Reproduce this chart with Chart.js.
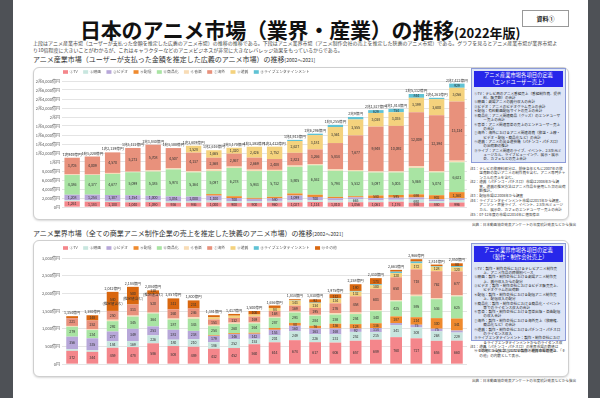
<!DOCTYPE html>
<html lang="ja">
<head>
<meta charset="utf-8">
<script src="https://cdn.jsdelivr.net/npm/chart.js@4.4.1/dist/chart.umd.min.js"></script>
<style>
  html, body { margin: 0; padding: 0; }
  body { width: 600px; height: 398px; background: #4e5156; position: relative; overflow: hidden;
         font-family: "Noto Sans CJK JP", "Noto Sans", sans-serif; color: #333; }
  .page { position: absolute; left: 13px; top: 0; width: 575px; height: 398px; background: #fff; }
  .abs { position: absolute; white-space: nowrap; }
  .title { left: 80px; top: 14px; font-size: 21px; font-weight: 700; color: #111; letter-spacing: -0.2px; }
  .title small { font-size: 13px; font-weight: 700; letter-spacing: 0; }
  .tag { left: 522px; top: 10px; width: 45px; height: 15px; border: 1px solid #999; font-size: 6px;
         font-weight: 700; text-align: center; line-height: 15px; color: #222; }
  .desc { left: 33px; top: 39px; font-size: 5px; line-height: 7px; color: #444; }
  .sect { left: 33px; font-size: 7px; color: #333; }
  .sect span { font-size: 5px; }
  .box { position: absolute; left: 33px; width: 534px; border: 1px solid #cfcfcf; border-radius: 6px;
         box-shadow: 0 1px 2px rgba(0,0,0,0.15); background: #fff; }
  canvas { position: absolute; }
  .def { position: absolute; left: 471px; width: 93px; background: #dde5f6; border: 1px solid #8c9bd8; }
  .def .hd { margin: 2px; background: #2727ea; color: #fff; font-size: 5.3px; line-height: 7px;
             text-align: center; padding: 1px 0; }
  /* tiny text: laid out at double size, then scaled down */
  .tiny { position: absolute; transform: scale(0.5); transform-origin: 0 0; white-space: normal; }
  .def .tiny { left: 2px; width: 178px; font-size: 7.2px; line-height: 8.4px; color: #222; }
  .tiny p { margin: 0 0 0.6px 0; padding-left: 2.6em; text-indent: -2.6em; }
  .notes { left: 470px; width: 192px; font-size: 7.2px; line-height: 8.8px; color: #333; }
  .notes p { margin: 0 0 1px 0; padding-left: 2.6em; text-indent: -2.6em; }
  .src { font-size: 7.2px; color: #444; white-space: nowrap; }
</style>
</head>
<body>
<div class="page"></div>
<div class="abs title">日本のアニメ市場（業界・産業）の推移<small>(2022年版)</small></div>
<div class="abs tag">資料①</div>
<div class="abs desc">上段はアニメ産業市場（ユーザーが支払った金額を推定した広義のアニメ市場）の推移の推移である。下段はアニメ業界市場（アニメ制作会社の売上を推定した狭義のアニメ市場）である。グラフを見るとアニメ産業市場が業界市場よ<br>り10倍程度に大きいことがわかるが、これはキャラクターなどのアニメビジネスが非常に大きなレバレッジ効果をもっているからである。</div>

<div class="abs sect" style="top:54px">アニメ産業市場（ユーザーが支払った金額を推定した広義のアニメ市場）の推移<span>[2002～2021]</span></div>
<div class="box" style="top:67px;height:151px"></div>
<canvas id="c1" width="436" height="152" style="left:33px;top:67px;width:436px;height:152px"></canvas>
<div class="def" style="top:68px;height:93px">
  <div class="hd">アニメ産業市場各項目の定義<br>（エンドユーザー売上）</div>
  <div class="tiny" style="top:22px">
  <p>①TV：テレビ局のアニメ番組売上（番組制作費、提供料、販売額）の合計</p>
  <p>②映画：劇場アニメの興行収入の合計</p>
  <p>③ビデオ：アニメのビデオグラム売上の合計</p>
  <p>④配信：有料動画配信サイトの売上の合計</p>
  <p>⑤商品化：アニメ関連商品（グッズ）のエンドユーザー売上の合計</p>
  <p>⑥音楽：アニメ関連音楽の売上のエンドユーザー売上の合計</p>
  <p>⑦海外：海外におけるアニメ関連消費（放送・上映・ビデオ・配信・商品化など）の合計</p>
  <p>⑧遊興：アニメの出る遊技機（パチンコ・パチスロ）の出荷額の推計</p>
  <p>⑨ライブ：アニメ関連のライブ、イベント、2.5次元ミュージカル、ライブビューイング、展示・展示会、カフェなどの売上合計</p>
  </div>
</div>
<div class="tiny notes" style="top:166px">
<p>注1：テレビの放映料部分は、前後各年ともに2007年の放送費額の高いアニメの制作費を含む。アニメ専門チャンネルの売上を含む。</p>
<p>注2：遊興（パチンコ・パチスロ）市場は2008年から調査。遊興の推定方法はアニメ作品を使用した台の出荷額推計。</p>
<p>注3：配信市場は2008年から調査</p>
<p>注4：ライブエンタテインメント市場は2013年から調査。アニソン・声優ライブ、イベント、2.5次元ミュージカル、展示会、カフェのエンドユーザー売上の合計</p>
<p>注5：07-12年度の市場は2014年に遡及修正</p>
</div>
<div class="tiny src" style="left:472px;top:222px">出典：日本動画協会発表アンケートの年度統計発表などから抜出</div>

<div class="abs sect" style="top:228px">アニメ業界市場（全ての商業アニメ制作企業の売上を推定した狭義のアニメ市場）の推移<span>[2002～2021]</span></div>
<div class="box" style="top:240px;height:135px"></div>
<canvas id="c2" width="436" height="136" style="left:33px;top:240px;width:436px;height:136px"></canvas>
<div class="def" style="top:243px;height:96px">
  <div class="hd">アニメ業界市場各項目の定義<br>（製作・制作会社売上）</div>
  <div class="tiny" style="top:22px">
  <p>①TV：製作・制作会社におけるテレビアニメ制作売上、アニメ作品の時間別ベース</p>
  <p>②映画：製作・制作会社における劇場アニメ制作売上、興行収入からの配分</p>
  <p>③ビデオ：製作・制作会社におけるビデオ販売売上、ビデオグラムの出荷額</p>
  <p>④配信：製作・制作会社における配信アニメ制作売上、配信収入の配分</p>
  <p>⑤商品化：製作・制作会社における商品化・イベント等でのライセンス収入の合計</p>
  <p>⑥音楽：製作・制作会社における音楽出版・楽曲配信の収入合計</p>
  <p>⑦海外：製作・制作会社における海外売上（放映権、商品化など）の合計</p>
  <p>⑧遊興：製作・制作会社におけるパチンコ・パチスロのライセンス収入</p>
  <p>⑨ライブエンタテインメント：製作・制作会社におけるライブエンタテインメントからのライセンス収入</p>
  <p>⑩その他：上記に該当しない製作・制作会社の売上</p>
  </div>
</div>
<div class="tiny notes" style="top:344px">
<p>注1：遊興（パチンコ・パチスロ）の業界市場の数値は2009年から独立。2007年以前の遊興市場数値は、「その他」の内数として表示。</p>
</div>
<div class="tiny src" style="left:472px;top:378px">出典：日本動画協会発表アンケートの年度統計発表などから抜出</div>

<script>
// years
const years = ["2002","2003","2004","2005","2006","2007","2008","2009","2010","2011",
               "2012","2013","2014","2015","2016","2017","2018","2019","2020","2021"];

// アニメ産業市場 (億円)
const tv1    = [1261,1183,1100,1040,1090, 936, 946,1000, 900, 900, 960,1027,1114,1010,1056,1061,1176, 958, 880, 996];
const eiga1  = [ 250, 300, 260, 427, 400, 390, 382, 420, 400, 410, 400, 430, 416, 440, 663, 410, 426, 692, 406, 567];
const video1 = [1208,1254,1307,1154,1000,1051,1000,1100, 700, 500, 580,1099, 700, 500, 425, 520, 475, 467, 433, 382];
const haishin1=[   0,   0,   0,   0,   0,   0,   0, 350, 400, 220, 330, 460, 499, 302, 260, 580, 595, 698, 902,1360];
const shohin1= [4386,4377,4677,5099,5385,5974,5364,5097,6278,5943,5732,5905,6552,5794,5532,5097,5003,5868,5074,6621];
const ongaku1= [ 138,  97, 225, 129, 257, 242, 252, 416, 305, 325, 250, 296, 250, 330, 289, 244, 258, 377, 276, 377];
const kaigai1= [3705,4009,4570,5273,5708,4507,4137,2568,2867,2669,2408,2823,3266,5834,7677,9948,10092,12009,12394,13134];
const yukyo1 = [   0,   0,   0,   0,   0,   0,1528,1665,1320,2426,2752,2627,3181,3561,3555,3038,3035,3199,3600,3056];
const live1  = [   0,   0,   0,   0,   0,   0,   0,   0,   0,   0,   0, 246, 318, 484, 552, 629, 754, 844, 296, 929];

// アニメ業界市場 (億円)
const tv2    = [372,344,459,478,586,508,489,432,452,560,614,674,617,606,657,689,760,727,655,660];
const eiga2  = [ 46, 48,184,169,226,180,210,186,252,153,201,249,226,231,252,215,341,308,268,229];
const video2 = [356,335,277,349,253,281,238,179,146,142,153,160,163,168, 92,114, 60, 75, 75, 58];
const haishin2=[  0,  0,  0,  0,  0,  0,  0, 20, 24, 30, 52, 80, 76,136,128,136,187,214,300,341];
const shohin2= [279,234,292,345,364,287,343,254,260,264,287,293,284,258,284,340,425,595,536,625];
const ongaku2= [ 24, 19, 40, 30, 25, 30, 43, 37, 37, 25, 27, 27, 26, 42, 45, 30, 30, 40, 30, 30];
const kaigai2= [221,252,250,313,520,260,246,153,132,169,168,169,195,276,458,603,650,718,762,677];
const yukyo2 = [  0,  0,  0,  0,  0,  0,  0, 60, 64, 57, 84,143,134,134,132,100,120,172,128,120];
const live2  = [  0,  0,  0,  0,  0,  0,  0,  0,  0,  0,  0,  9, 17, 12, 20, 30, 40, 50, 20, 30];
const sonota2= [ 56,148,540,500,110,311,231, 60, 50,100, 70, 30, 92,112,190,173, 50, 67, 40, 80];
const estimated2 = ["2004","2005","2006"];

const yTicks1 = [0,2000,4000,6000,8000,10000,12000,14000,16000,18000,20000,22000,24000,26000,28000];
const yTicks2 = [0,500,1000,1500,2000,2500,3000];

const FONT = '"Noto Sans CJK JP", "Noto Sans", sans-serif';
const colors = {
  tv: "#f4868b", eiga: "#c8e6df", video: "#b7a7d9", haishin: "#ef8a2e", shohin: "#a9e4a3",
  ongaku: "#f8dcb6", kaigai: "#e8917c", yukyo: "#f4d27d", live: "#5fc2d4", sonota: "#d9670f"
};

function chou(v) {
  if (v === 0) return "0円";
  const c = Math.floor(v / 10000), o = v % 10000;
  let s = c > 0 ? c + "兆" : "";
  if (o > 0) s += o.toLocaleString("en-US") + "億円"; else s += "円";
  return s;
}
function oku(v) { return v === 0 ? "0円" : v.toLocaleString("en-US") + "億円"; }

function ds(label, data, color) {
  return { label, data, backgroundColor: color, borderWidth: 0 };
}

// legend + value labels drawn on the canvas
const barText = {
  id: "barText",
  afterDatasetsDraw(chart, args, opts) {
    const ctx = chart.ctx;
    const ya = chart.scales.y;
    ctx.save();
    ctx.textAlign = "center";
    ctx.textBaseline = "middle";
    ctx.font = "3.6px " + FONT;
    ctx.fillStyle = "#333";
    chart.data.datasets.forEach((d, di) => {
      chart.getDatasetMeta(di).data.forEach((bar, i) => {
        const v = d.data[i];
        if (!v) return;
        const p = bar.getProps(["x", "y", "base"], true);
        const h = p.base - p.y;
        if (h < 2.6) return;
        const lab = v.toLocaleString("en-US");
        if (opts.estimated && d.label === "⑩その他" && opts.estimated.includes(chart.data.labels[i])) {
          ctx.fillText(lab, p.x, (p.y + p.base) / 2 - 2);
          ctx.fillText("(推定値含む)", p.x, (p.y + p.base) / 2 + 2.5);
        } else {
          ctx.fillText(lab, p.x, (p.y + p.base) / 2);
        }
      });
    });
    // totals
    ctx.textBaseline = "bottom";
    chart.data.labels.forEach((l, i) => {
      let t = 0;
      chart.data.datasets.forEach(d => t += d.data[i]);
      const x = chart.getDatasetMeta(0).data[i].x;
      ctx.fillText(opts.fmt(t), x, ya.getPixelForValue(t) - 1.5);
    });
    // legend
    ctx.textAlign = "left";
    ctx.textBaseline = "middle";
    ctx.font = "3.8px " + FONT;
    let x = chart.chartArea.left + 1;
    const y = chart.chartArea.top - opts.legendOffset;
    chart.data.datasets.forEach(d => {
      ctx.fillStyle = d.backgroundColor;
      ctx.fillRect(x, y - 1.8, 5, 3.6);
      ctx.fillStyle = "#555";
      ctx.fillText(d.label, x + 6.5, y);
      x += 6.5 + ctx.measureText(d.label).width + 5.4;
    });
    ctx.restore();
  }
};

function makeChart(id, datasets, ticks, fmt, catPct, padTop, legendOffset, estimated) {
  return new Chart(document.getElementById(id).getContext("2d"), {
    type: "bar",
    data: { labels: years, datasets },
    plugins: [barText],
    options: {
      responsive: false,
      animation: false,
      devicePixelRatio: 1,
      layout: { padding: { top: padTop, right: 2, bottom: 2, left: 0 } },
      datasets: { bar: { categoryPercentage: catPct, barPercentage: 1 } },
      plugins: {
        legend: { display: false },
        tooltip: { enabled: false },
        barText: { fmt, legendOffset, estimated }
      },
      scales: {
        x: {
          stacked: true,
          grid: { display: false },
          border: { display: false },
          ticks: { font: { size: 5, family: FONT }, color: "#333", padding: 2, maxRotation: 0 },
          afterFit(s) { s.height = 10; }
        },
        y: {
          stacked: true,
          min: 0, max: ticks[ticks.length - 1],
          afterBuildTicks(s) { s.ticks = ticks.map(v => ({ value: v })); },
          grid: { color: "#d9d9d9", lineWidth: 0.7, drawTicks: false },
          border: { display: false },
          ticks: { font: { size: 4, family: FONT }, color: "#555", padding: 2, callback: v => fmt(v) },
          afterFit(s) { s.width = 29; }
        }
      }
    }
  });
}

makeChart("c1", [
  ds("①TV", tv1, colors.tv),
  ds("②映画", eiga1, colors.eiga),
  ds("③ビデオ", video1, colors.video),
  ds("④配信", haishin1, colors.haishin),
  ds("⑤商品化", shohin1, colors.shohin),
  ds("⑥音楽", ongaku1, colors.ongaku),
  ds("⑦海外", kaigai1, colors.kaigai),
  ds("⑧遊興", yukyo1, colors.yukyo),
  ds("⑨ライブエンタテインメント", live1, colors.live)
], yTicks1, chou, 0.76, 14, 9);

makeChart("c2", [
  ds("①TV", tv2, colors.tv),
  ds("②映画", eiga2, colors.eiga),
  ds("③ビデオ", video2, colors.video),
  ds("④配信", haishin2, colors.haishin),
  ds("⑤商品化", shohin2, colors.shohin),
  ds("⑥音楽", ongaku2, colors.ongaku),
  ds("⑦海外", kaigai2, colors.kaigai),
  ds("⑧遊興", yukyo2, colors.yukyo),
  ds("⑨ライブエンタテインメント", live2, colors.live),
  ds("⑩その他", sonota2, colors.sonota)
], yTicks2, oku, 0.58, 18, 10, estimated2);
</script>
</body>
</html>
